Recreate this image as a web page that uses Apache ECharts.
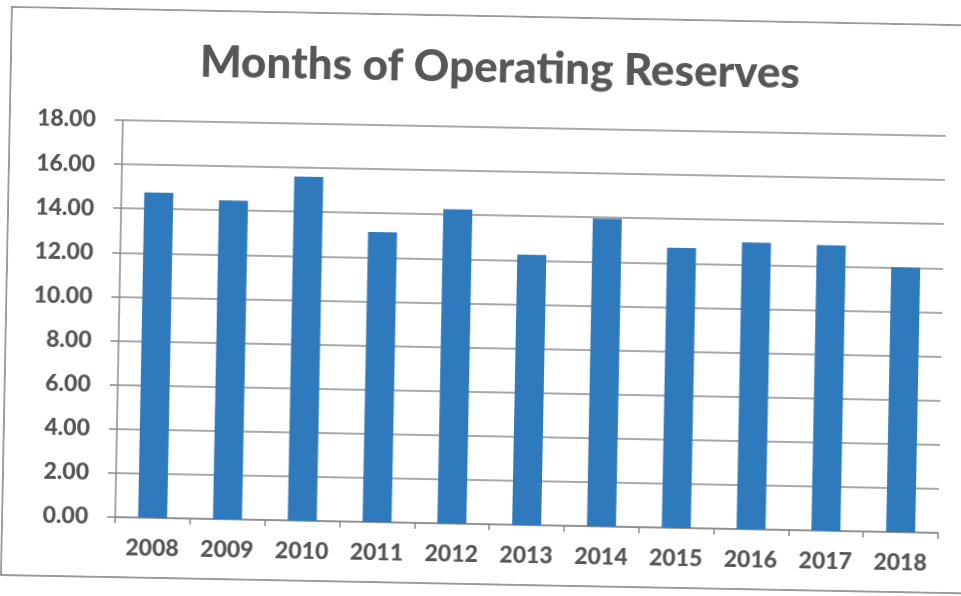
<!DOCTYPE html>
<html>
<head>
<meta charset="utf-8">
<title>Months of Operating Reserves</title>
<script src="https://cdn.jsdelivr.net/npm/echarts@6/dist/echarts.min.js"></script>
<style>
  html, body { margin: 0; padding: 0; background: #fff; overflow: hidden; }
  #page { position: relative; width: 961px; height: 596px; overflow: hidden; background: #fff; }
  /* the printed chart sits slightly askew on the page */
  #frame {
    position: absolute; left: 11px; top: 6px;
    width: 980px; height: 570px;
    border: 2px solid #9a9a9a; box-sizing: border-box;
    transform-origin: 0 0; transform: rotate(1.1deg);
    background: #fff;
  }
  #chart { width: 100%; height: 100%; }
</style>
</head>
<body>
<div id="page"><div id="frame"><div id="chart"></div></div></div>
<script>
const years = ['2008', '2009', '2010', '2011', '2012', '2013', '2014', '2015', '2016', '2017', '2018'];
const reserveMonths = [14.75, 14.45, 15.6, 13.15, 14.25, 12.25, 13.95, 12.7, 13.0, 12.95, 12.0];
const yTicks = { min: 0, max: 18, interval: 2 };

const textGray = '#555555';
const labelFont = { fontFamily: 'Lato', fontWeight: 900, fontSize: 23, color: textGray };

const chart = echarts.init(document.getElementById('chart'), null, { renderer: 'canvas' });
chart.setOption({
  animation: false,
  backgroundColor: '#fff',
  title: {
    text: 'Months of Operating Reserves',
    left: 'center',
    top: 24,
    textStyle: { fontFamily: 'Lato', fontWeight: 900, fontSize: 44, color: '#575757' }
  },
  grid: { left: 112, right: 41, top: 110, bottom: 59 },
  xAxis: {
    type: 'category',
    data: years,
    axisLine: { show: true, lineStyle: { color: '#8a8a8a', width: 1.5 } },
    axisTick: { show: true, alignWithLabel: false, length: 6, lineStyle: { color: '#8a8a8a', width: 1.5 } },
    axisLabel: Object.assign({ margin: 19 }, labelFont)
  },
  yAxis: {
    type: 'value',
    min: yTicks.min,
    max: yTicks.max,
    interval: yTicks.interval,
    axisLine: { show: true, lineStyle: { color: '#8a8a8a', width: 1.5 } },
    axisTick: { show: true, length: 8, lineStyle: { color: '#8a8a8a', width: 1.5 } },
    axisLabel: Object.assign({ margin: 27, formatter: v => v.toFixed(2) }, labelFont),
    splitLine: { show: true, lineStyle: { color: '#8c8c8c', width: 1.5 } }
  },
  series: [{
    type: 'bar',
    data: reserveMonths,
    barWidth: 29,
    itemStyle: { color: '#2e7abd' }
  }]
});
</script>
</body>
</html>
